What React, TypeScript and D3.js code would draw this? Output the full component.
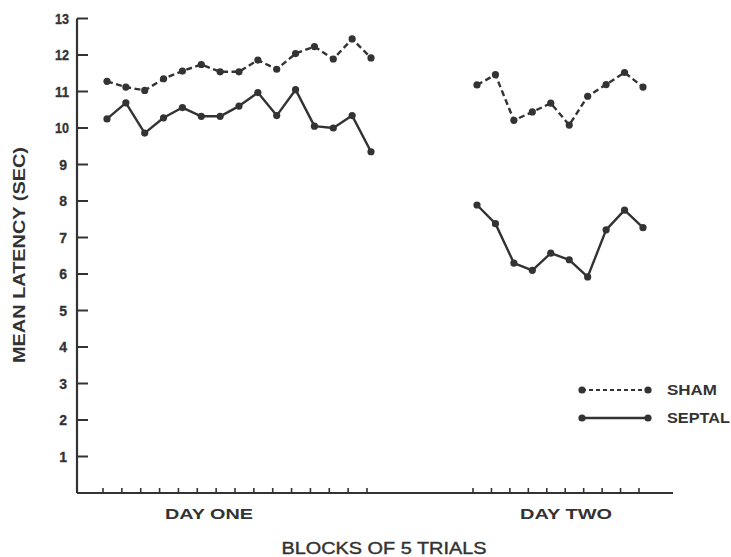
import React from "react";
import * as d3 from "d3";

const yTicks = [1, 2, 3, 4, 5, 6, 7, 8, 9, 10, 11, 12, 13];
const dayOneBlocks = [0, 1, 2, 3, 4, 5, 6, 7, 8, 9, 10, 11, 12, 13, 14];
const dayTwoBlocks = [20, 21, 22, 23, 24, 25, 26, 27, 28, 29];
const shamDayOne = [11.28, 11.12, 11.03, 11.35, 11.56, 11.74, 11.54, 11.54, 11.86, 11.61, 12.04, 12.23, 11.89, 12.44, 11.92];
const septalDayOne = [10.25, 10.69, 9.86, 10.28, 10.56, 10.32, 10.32, 10.6, 10.97, 10.34, 11.05, 10.05, 10.0, 10.34, 9.35];
const shamDayTwo = [11.18, 11.46, 10.21, 10.44, 10.68, 10.08, 10.87, 11.19, 11.52, 11.12];
const septalDayTwo = [7.89, 7.38, 6.3, 6.1, 6.57, 6.39, 5.92, 7.21, 7.75, 7.27];
const legendItems = ["SHAM", "SEPTAL"];

const INK = "#333";
const FONT = "'Liberation Sans', Arial, sans-serif";

export default function App() {
  const W = 731, H = 557;
  const x0 = 77, yBase = 493;
  const y = d3.scaleLinear().domain([0, 13]).range([493, 18.5]);
  const x = d3.scaleLinear().domain([0, 14, 20, 29]).range([107, 371, 477, 643]);
  const line = d3.line<[number, number]>().x(d => x(d[0])).y(d => y(d[1]));

  const series = [
    { blocks: dayOneBlocks, vals: shamDayOne, dash: "6,3.5" },
    { blocks: dayOneBlocks, vals: septalDayOne, dash: null },
    { blocks: dayTwoBlocks, vals: shamDayTwo, dash: "6,3.5" },
    { blocks: dayTwoBlocks, vals: septalDayTwo, dash: null },
  ];

  const allBlocks = [...dayOneBlocks, ...dayTwoBlocks];

  return (
    <svg width={W} height={H} style={{ position: "absolute", left: 0, top: 0, background: "#fff" }}>
      {/* axes */}
      <line x1={x0} y1={y(13)} x2={x0} y2={yBase} stroke={INK} strokeWidth={2.2} />
      <line x1={x0} y1={yBase} x2={673} y2={yBase} stroke={INK} strokeWidth={2.2} />
      {yTicks.map(t => (
        <g key={t}>
          <line x1={x0} x2={x0 + 11} y1={y(t)} y2={y(t)} stroke={INK} strokeWidth={2} />
          <text x={t >= 10 ? 69 : 67} y={y(t)} dy="0.36em" textAnchor="end" fontFamily={FONT}
            fontWeight="bold" fontSize={14} fill={INK} stroke={INK} strokeWidth={0.3}
            {...(t >= 10 ? { textLength: 14, lengthAdjust: "spacingAndGlyphs" } : {})}>
            {t}
          </text>
        </g>
      ))}
      {allBlocks.map(b => (
        <line key={b} x1={x(b) - 4} x2={x(b) - 4} y1={yBase} y2={yBase - 5} stroke={INK} strokeWidth={1.6} />
      ))}

      {/* series */}
      {series.map((s, i) => {
        const pts: [number, number][] = s.blocks.map((b, j) => [b, s.vals[j]]);
        return (
          <g key={i}>
            <path d={line(pts) || ""} fill="none" stroke={INK} strokeWidth={2.4}
              strokeDasharray={s.dash || undefined} strokeLinejoin="round" />
            {pts.map((p, j) => (
              <circle key={j} cx={x(p[0])} cy={y(p[1])} r={3.6} fill={INK} />
            ))}
          </g>
        );
      })}

      {/* labels */}
      <text x={209} y={519} textAnchor="middle" fontFamily={FONT} fontWeight="bold" fontSize={15}
        fill={INK} textLength={88} lengthAdjust="spacingAndGlyphs">DAY  ONE</text>
      <text x={566} y={519} textAnchor="middle" fontFamily={FONT} fontWeight="bold" fontSize={15}
        fill={INK} textLength={92} lengthAdjust="spacingAndGlyphs">DAY  TWO</text>
      <text x={384} y={554} textAnchor="middle" fontFamily={FONT} fontSize={17} fill={INK}
        textLength={205} lengthAdjust="spacingAndGlyphs" stroke={INK} strokeWidth={0.4}>BLOCKS  OF 5  TRIALS</text>
      <text transform="translate(25,255) rotate(-90)" textAnchor="middle" fontFamily={FONT}
        fontWeight="bold" fontSize={16} fill={INK} textLength={216} lengthAdjust="spacingAndGlyphs">
        MEAN  LATENCY  (SEC)
      </text>

      {/* legend */}
      {legendItems.map((name, i) => {
        const ly = 390 + i * 28;
        return (
          <g key={name}>
            <line x1={582} x2={648} y1={ly} y2={ly} stroke={INK} strokeWidth={i === 0 ? 1.8 : 2.4}
              strokeDasharray={i === 0 ? "4,3" : undefined} />
            <circle cx={582} cy={ly} r={3.6} fill={INK} />
            <circle cx={648} cy={ly} r={3.6} fill={INK} />
            <text x={667} y={ly} dy="0.36em" fontFamily={FONT} fontWeight="bold" fontSize={14} fill={INK}
              textLength={i === 0 ? 50 : 63} lengthAdjust="spacingAndGlyphs">{name}</text>
          </g>
        );
      })}
    </svg>
  );
}
